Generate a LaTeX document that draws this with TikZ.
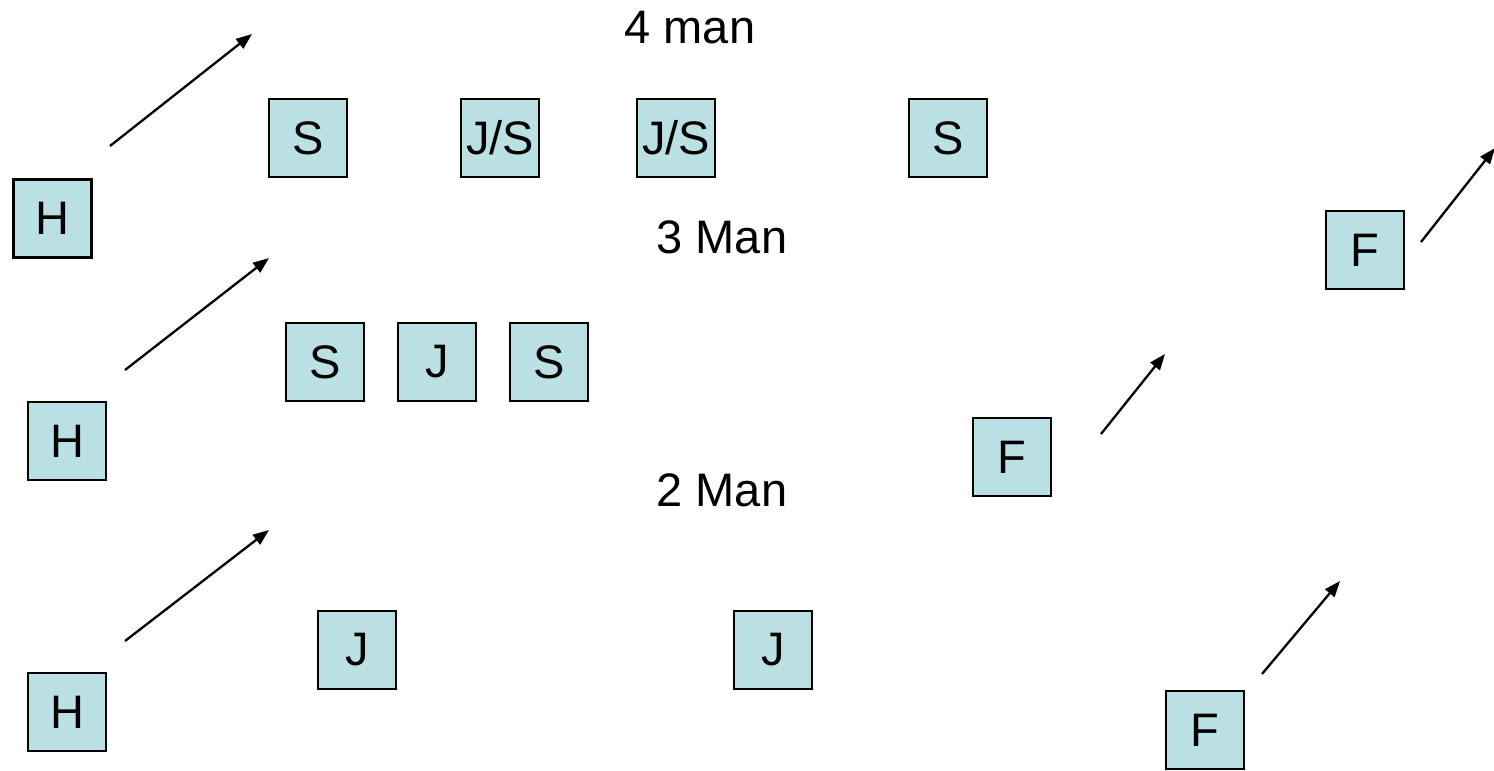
\documentclass[tikz,border=0pt]{standalone}
\usepackage{fontspec}
\setmainfont{Liberation Sans}
\usetikzlibrary{arrows.meta}
\definecolor{boxfill}{HTML}{BBE0E3}
\begin{document}
\begin{tikzpicture}[x=1pt,y=-1pt,
  pbox/.style={draw=black,line width=2.6pt,fill=boxfill,minimum width=78pt,minimum height=78pt,inner sep=0pt,font=\fontsize{47}{47}\selectfont},
  lbl/.style={font=\fontsize{47}{47}\selectfont,inner sep=0pt},
  arr/.style={line width=2.3pt,-{Triangle[length=16pt,width=12pt]}}]
\useasboundingbox (0,0) rectangle (1494,771);
% row 1
\node[pbox] (h1) at (52.5,218.5) {H};
\node[pbox] (s1) at (308,138) {S};
\node[pbox] (js1) at (500,138) {J/S};
\node[pbox] (js2) at (676,138) {J/S};
\node[pbox] (s2) at (948,138) {S};
\node[pbox] (f1) at (1365,250) {F};
\node[lbl] (t4) at (690,28) {4 man};
% row 2
\node[pbox] (h2) at (67,441) {H};
\node[pbox] (s3) at (325,362) {S};
\node[pbox] (j1) at (437,362) {J};
\node[pbox] (s4) at (549,362) {S};
\node[pbox] (f2) at (1012,457) {F};
\node[lbl] (t3) at (722,237) {3 Man};
% row 3
\node[pbox] (h3) at (67,712) {H};
\node[pbox] (j2) at (357,650) {J};
\node[pbox] (j3) at (773,650) {J};
\node[pbox] (f3) at (1205,730) {F};
\node[lbl] (t2) at (722,490) {2 Man};
% arrows
\coordinate (a1s) at (110,146); \coordinate (a1e) at (252,34);
\coordinate (a2s) at (125,370); \coordinate (a2e) at (269,258);
\coordinate (a3s) at (125,641); \coordinate (a3e) at (269,530);
\coordinate (a4s) at (1421,242); \coordinate (a4e) at (1495,148);
\coordinate (a5s) at (1101,434); \coordinate (a5e) at (1165,354);
\coordinate (a6s) at (1262,674); \coordinate (a6e) at (1340,581);
\draw[arr] (a1s) -- (a1e);
\draw[arr] (a2s) -- (a2e);
\draw[arr] (a3s) -- (a3e);
\draw[arr] (a4s) -- (a4e);
\draw[arr] (a5s) -- (a5e);
\draw[arr] (a6s) -- (a6e);
\end{tikzpicture}
\end{document}
